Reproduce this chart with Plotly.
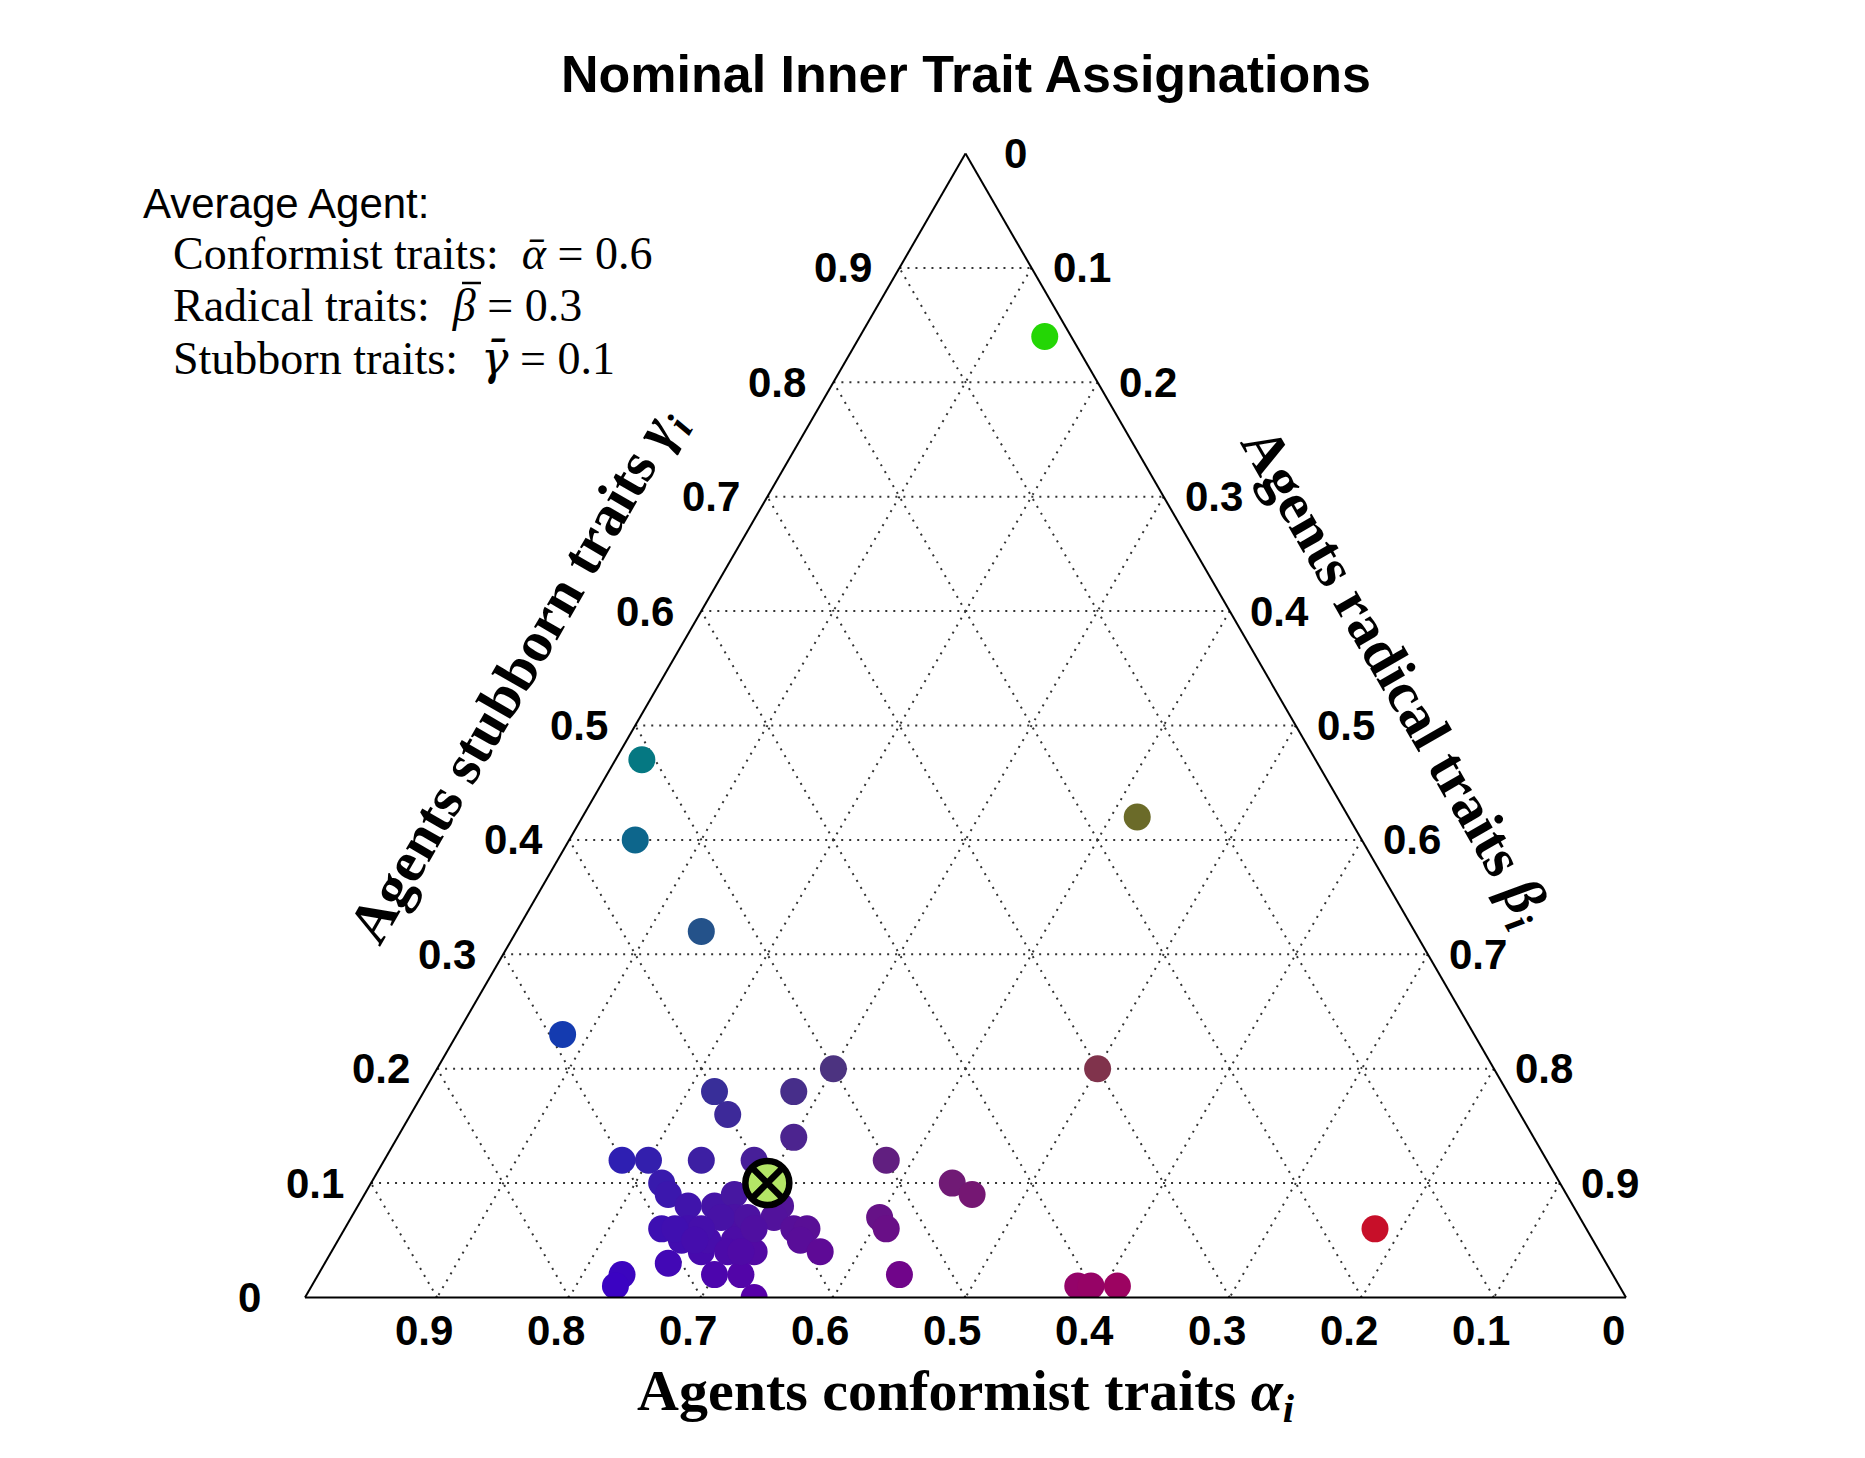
import plotly.graph_objects as go

# ---------------- data ----------------
# agents' inner traits: conformist (alpha), radical (beta), stubborn (gamma)
alpha = [0.02, 0.51, 0.55, 0.54, 0.69, 0.16, 0.30, 0.16, 0.41, 0.40, 0.38,
         0.60, 0.54, 0.50, 0.60, 0.56, 0.70, 0.68, 0.64, 0.60, 0.50, 0.46,
         0.45, 0.53, 0.53, 0.54, 0.68, 0.68, 0.67, 0.65, 0.63, 0.60, 0.61,
         0.70, 0.68, 0.69, 0.68, 0.67, 0.64, 0.64, 0.65, 0.64, 0.66, 0.68,
         0.71, 0.66, 0.75, 0.76, 0.60, 0.59, 0.60, 0.59, 0.65, 0.63, 0.63,
         0.67, 0.69, 0.68, 0.66, 0.65]
beta = [0.14, 0.02, 0.05, 0.14, 0.08, 0.42, 0.50, 0.78, 0.58, 0.59, 0.61,
        0.22, 0.28, 0.30, 0.24, 0.30, 0.18, 0.20, 0.24, 0.28, 0.38, 0.44,
        0.46, 0.40, 0.41, 0.44, 0.22, 0.23, 0.25, 0.27, 0.28, 0.32, 0.32,
        0.24, 0.26, 0.26, 0.28, 0.28, 0.29, 0.30, 0.30, 0.32, 0.32, 0.30,
        0.26, 0.34, 0.23, 0.23, 0.34, 0.35, 0.35, 0.37, 0.28, 0.30, 0.31,
        0.27, 0.25, 0.27, 0.30, 0.31]
gamma = [0.84, 0.47, 0.40, 0.32, 0.23, 0.42, 0.20, 0.06, 0.01, 0.01, 0.01,
         0.18, 0.18, 0.20, 0.16, 0.14, 0.12, 0.12, 0.12, 0.12, 0.12, 0.10,
         0.09, 0.07, 0.06, 0.02, 0.10, 0.09, 0.08, 0.08, 0.09, 0.08, 0.07,
         0.06, 0.06, 0.05, 0.04, 0.05, 0.07, 0.06, 0.05, 0.04, 0.02, 0.02,
         0.03, 0.00, 0.02, 0.01, 0.06, 0.06, 0.05, 0.04, 0.07, 0.07, 0.06,
         0.06, 0.06, 0.05, 0.04, 0.04]

avg_alpha = [0.6]
avg_beta = [0.3]
avg_gamma = [0.1]

tick_values = [0, 0.1, 0.2, 0.3, 0.4, 0.5, 0.6, 0.7, 0.8, 0.9]
tick_labels = ["0", "0.1", "0.2", "0.3", "0.4", "0.5", "0.6", "0.7", "0.8", "0.9"]

title_text = "Nominal Inner Trait Assignations"
legend_head = "Average Agent:"
legend_lines = [
    "Conformist traits:  <i>ᾱ</i> = 0.6",
    "Radical traits:  <i>β</i> = 0.3",
    "Stubborn traits:  <span style=\"font-family:'DejaVu Serif'\"><i>γ̄</i></span> = 0.1",
]

# ---------------- figure ----------------
W, H = 1865, 1458
OFF = 8  # page body margin

colors = [f"rgb({round(255*b)},{round(255*g)},{round(255*a)})"
          for a, b, g in zip(alpha, beta, gamma)]
avg_color = "rgb({},{},{})".format(255 - round(255 * avg_beta[0]),
                                   255 - round(255 * avg_gamma[0]),
                                   255 - round(255 * avg_alpha[0]))

fig = go.Figure()
fig.add_trace(go.Scatterternary(
    a=gamma, b=alpha, c=beta, mode="markers",
    marker=dict(size=27, color=colors, line=dict(width=0)),
    showlegend=False, hoverinfo="a+b+c"))
fig.add_trace(go.Scatterternary(
    a=avg_gamma, b=avg_alpha, c=avg_beta, mode="markers",
    marker=dict(size=44, symbol="circle-x", color=avg_color,
                line=dict(width=6.5, color="black")),
    showlegend=False))

axis_common = dict(
    tickmode="array", tickvals=tick_values, ticktext=tick_labels,
    showticklabels=False, ticks="",
    linecolor="black", linewidth=2,
    showgrid=True, gridcolor="#333333", gridwidth=1.6, griddash="2px,6px",
    showline=True, title=dict(text=""))

# triangle position on screen (pixels)
xL, xR = 305, 1626
yB = 1297.5
side = xR - xL
Hs = side * 3 ** 0.5 / 2
yT = yB - Hs

fig.update_layout(
    width=W, height=H,
    margin=dict(l=0, r=0, t=0, b=0),
    paper_bgcolor="white",
    ternary=dict(
        sum=1,
        bgcolor="white",
        domain=dict(x=[(xL - OFF) / W, (xR - OFF) / W],
                    y=[1 - (yB - OFF) / H, 1 - (yT - OFF) / H]),
        aaxis=axis_common, baxis=axis_common, caxis=axis_common),
)


def px(x, y):
    return (x - OFF) / W, 1 - (y - OFF) / H


def tern(al, be, ga):
    return xL + side * (be + ga / 2), yB - Hs * ga


anns = []
tick_font = dict(family="Liberation Sans", size=42, color="black", weight="bold")
for v, lab in zip(tick_values, tick_labels):
    # stubborn axis (left edge)
    sx, sy = tern(1 - v, 0, v)
    x, y = px(sx - 56, sy)
    anns.append(dict(x=x, y=y, text=lab, showarrow=False, font=tick_font,
                     xanchor="center", yanchor="middle"))
    # conformist axis (bottom edge)
    sx, sy = tern(v, 1 - v, 0)
    x, y = px(sx - 13, sy + 33)
    anns.append(dict(x=x, y=y, text=lab, showarrow=False, font=tick_font,
                     xanchor="center", yanchor="middle"))
    # radical axis (right edge)
    sx, sy = tern(0, v, 1 - v)
    x, y = px(sx + 50, sy)
    anns.append(dict(x=x, y=y, text=lab, showarrow=False, font=tick_font,
                     xanchor="center", yanchor="middle"))

serif_bold = dict(family="Liberation Serif", size=58, color="black", weight="bold")
x, y = px(966, 74)
anns.append(dict(x=x, y=y, text=title_text, showarrow=False,
                 font=dict(family="Liberation Sans", size=52, color="black", weight="bold"),
                 xanchor="center", yanchor="middle"))
x, y = px(966, 1394)
anns.append(dict(x=x, y=y, text="Agents conformist traits <i>α<sub>i</sub></i>",
                 showarrow=False, font=serif_bold, xanchor="center", yanchor="middle"))
x, y = px(518, 676)
anns.append(dict(x=x, y=y, text="Agents stubborn traits <i>γ<sub>i</sub></i>",
                 showarrow=False, font=serif_bold, textangle=-60,
                 xanchor="center", yanchor="middle"))
x, y = px(1393, 678)
anns.append(dict(x=x, y=y, text="Agents radical traits <i>β<sub>i</sub></i>",
                 showarrow=False, font=serif_bold, textangle=60,
                 xanchor="center", yanchor="middle"))
x, y = px(141, 204)
anns.append(dict(x=x, y=y, text=legend_head, showarrow=False,
                 font=dict(family="Liberation Sans", size=42, color="black"),
                 xanchor="left", yanchor="middle"))
for i, line in enumerate(legend_lines):
    x, y = px(171, 253 + 52.5 * i)
    anns.append(dict(x=x, y=y, text=line, showarrow=False,
                     font=dict(family="Liberation Serif", size=46, color="black"),
                     xanchor="left", yanchor="middle"))
fig.update_layout(annotations=anns)

# bar over the beta symbol of the legend
bx0, by = px(462, 283)
bx1, _ = px(481, 283)
fig.add_shape(type="line", xref="paper", yref="paper", x0=bx0, x1=bx1, y0=by, y1=by,
              line=dict(color="black", width=2.5))

fig.write_html("out.html")
